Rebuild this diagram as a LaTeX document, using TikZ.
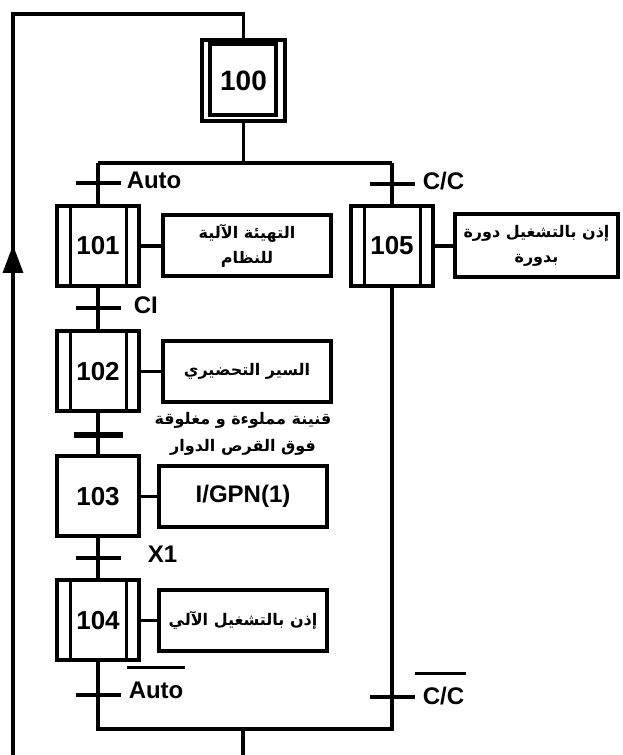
\documentclass[tikz,border=0pt]{standalone}
\usepackage{fontspec}
\setmainfont{Liberation Sans}
\newfontfamily\arabicfont[Script=Arabic]{DejaVu Sans}
\TeXXeTstate=1
\usetikzlibrary{arrows.meta}

\begin{document}
\begin{tikzpicture}[x=1pt, y=1pt, line width=3.5pt,
  stepbox/.style={draw, line width=4pt, minimum width=82pt, minimum height=80pt,
    inner sep=0pt, outer sep=0pt, font=\fontsize{26}{26}\selectfont\bfseries},
  actbox/.style={draw, line width=4pt, minimum width=168pt, minimum height=61pt,
    inner sep=0pt, outer sep=0pt, align=center,
    font=\arabicfont\fontsize{16}{25}\selectfont\bfseries},
  condlabel/.style={anchor=west, inner sep=0pt,
    font=\fontsize{24}{24}\selectfont\bfseries},
  recept/.style={align=center, inner sep=0pt,
    font=\arabicfont\fontsize{16}{27}\selectfont\bfseries},
]

% Layout constants
\def\colL{98}   % left branch x
\def\colR{392}  % right branch x
\def\tk{22.5}   % half length of a transition tick
\def\bar{13}    % inset of the double bars

\useasboundingbox (0,0) rectangle (622,755);

%% ---- initial step -----------------------------------------
\node[stepbox, minimum width=83pt, minimum height=81pt,
  font=\fontsize{28}{28}\selectfont\bfseries] (s100) at (243.5,674.5) {100};
\draw[line width=4pt] ([shift={(8pt,-4pt)}]s100.north west)
  rectangle ([shift={(-9pt,6pt)}]s100.south east);

%% ---- steps --------------------------------------------------
\node[stepbox] (s101) at (\colL,509)   {101};
\node[stepbox] (s102) at (\colL,383.5) {102};
\node[stepbox] (s103) at (\colL,258.5) {103};
\node[stepbox] (s104) at (\colL,134.5) {104};
\node[stepbox] (s105) at (\colR,509)   {105};

% Double bars on the sides of the task steps
\foreach \s in {s101,s102,s104,s105} {
  \draw[line width=3pt] ([xshift=\bar pt]\s.north west) -- ([xshift=\bar pt]\s.south west);
  \draw[line width=3pt] ([xshift=-\bar pt]\s.north east) -- ([xshift=-\bar pt]\s.south east);
}

%% ---- actions ------------------------------------------------
\node[actbox] (a101) at (247,509)
  {\beginR التهيئة الآلية\endR\\\beginR للنظام\endR};
\node[actbox] (a102) at (247,383.5) {\beginR السير التحضيري\endR};
\node[actbox, font=\fontsize{24}{24}\selectfont\bfseries] (a103) at (243,258.5) {I/GPN(1)};
\node[actbox] (a104) at (243,134.5) {\beginR إذن بالتشغيل الآلي\endR};
\node[actbox, minimum width=163pt, minimum height=63pt] (a105) at (536.5,509)
  {\beginR إذن بالتشغيل دورة\endR\\\beginR بدورة\endR};

\foreach \n in {101,...,105} {
  \draw (s\n.east) -- (a\n.west);
}

%% ---- links --------------------------------------------------
\coordinate (brL) at (\colL,592);
\coordinate (brR) at (\colR,592);
\coordinate (jnL) at (\colL,26);
\coordinate (jnR) at (\colR,26);
\coordinate (jnM) at (243,26);
\coordinate (loopR) at (243,0);
\coordinate (loopL) at (13,0);

\draw (s100.south) -- (s100.south |- brL);
\draw (brL) -- (brR);
\draw (brL) -- (s101.north);
\draw (brR) -- (s105.north);
\draw (s101.south) -- (s102.north);
\draw (s102.south) -- (s103.north);
\draw (s103.south) -- (s104.north);
\draw (s104.south) -- (jnL) -- (jnR) -- (s105.south);
\draw (jnM) -- (loopR);
\draw (loopL) -- (13,741) -| (s100.north);
\draw[-{Triangle[length=28pt,width=20pt]}] (13,470) -- (13,510);

%% ---- transitions --------------------------------------------
\foreach \x/\y in {\colL/572, \colL/447, \colL/197, \colL/60, \colR/571, \colR/58} {
  \draw (\x-\tk,\y) -- (\x+\tk,\y);
}
\draw[line width=6pt] (\colL-24.5,320) -- (\colL+24.5,320);

\node[condlabel] (cAuto) at (125,575) {Auto};
\node[condlabel] (cCC)   at (421,574) {C/C};
\node[condlabel] (cCI)   at (132,450) {CI};
\node[condlabel] (cX)    at (146,201) {X1};
\node[condlabel] (nAuto) at (127,65)  {Auto};
\node[condlabel] (nCC)   at (421,59)  {C/C};
% Bars over the negated conditions
\draw[line width=3pt] ([yshift=12pt]nAuto.north west) -- ([yshift=12pt]nAuto.north east);
\draw[line width=3pt] ([shift={(-6pt,12pt)}]nCC.north west) -- ([yshift=12pt]nCC.north east);

\node[recept] (rc102) at (243,321.5)
  {\beginR قنينة مملوءة و مغلوقة\endR\\\beginR فوق القرص الدوار\endR};

\end{tikzpicture}
\end{document}
